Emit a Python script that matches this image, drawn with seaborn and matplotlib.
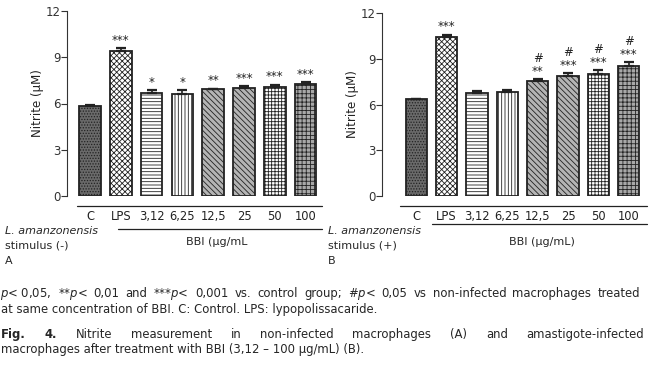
import numpy as np
import pandas as pd
import matplotlib
matplotlib.use("Agg")
import matplotlib.pyplot as plt
import seaborn as sns
from matplotlib.lines import Line2D

# ---------------- data ----------------
groups = ["C", "LPS", "3,12", "6,25", "12,5", "25", "50", "100"]
nitrite_a = [5.86, 9.43, 6.68, 6.64, 6.92, 7.03, 7.07, 7.24]
err_a = [0.06, 0.15, 0.17, 0.22, 0.04, 0.12, 0.15, 0.17]
sig_a = ["", "***", "*", "*", "**", "***", "***", "***"]
nitrite_b = [6.33, 10.41, 6.76, 6.79, 7.55, 7.88, 8.01, 8.53]
err_b = [0.05, 0.17, 0.15, 0.17, 0.11, 0.20, 0.26, 0.26]
sig_b = ["", "***", "", "", "#\n**", "#\n***", "#\n***", "#\n***"]
yticks = [0, 3, 6, 9, 12]

sns.set_theme(style="white")
plt.rcParams["font.family"] = ["DejaVu Sans"]
plt.rcParams["hatch.linewidth"] = 0.6
plt.rcParams["mathtext.fontset"] = "dejavusans"

W, H = 654, 380
fig = plt.figure(figsize=(W / 100, H / 100), dpi=100)
fig.patch.set_facecolor("white")


def fx(px):
    return px / W


def fy(py):
    return 1 - py / H


faces = ["#6a6a6a", "white", "white", "white", "#b4b4b4", "#b4b4b4", "white", "#a8a8a8"]
hatches = ["......", "xxxxxx", "-----", "|||||", "\\\\\\\\\\\\", "\\\\\\\\\\\\", "+++++", "++++"]


def panel(rect, xlim, vals, errs, sigs):
    ax = fig.add_axes(rect)
    df = pd.DataFrame({"group": groups, "nitrite": vals})
    sns.barplot(data=df, x="group", y="nitrite", order=groups, errorbar=None,
                width=0.7, ax=ax, linewidth=1.3, edgecolor="#222222")
    for p, fc, h in zip(ax.patches, faces, hatches):
        p.set_facecolor(fc)
        p.set_hatch(h)
        p.set_edgecolor("#222222")
    xs = np.arange(len(groups))
    ax.errorbar(xs, vals, yerr=[np.zeros(len(vals)), errs], fmt="none",
                ecolor="#222222", elinewidth=1.2, capsize=3.5, capthick=1.6)
    for x, v, e, s in zip(xs, vals, errs, sigs):
        if s:
            ax.text(x, v + e + 0.08, s, ha="center", va="bottom", fontsize=8.5,
                    linespacing=0.95, color="#222222")
    ax.set_xlim(*xlim)
    ax.set_ylim(0, 12)
    ax.set_yticks(yticks)
    ax.set_yticklabels([str(t) for t in yticks], fontsize=8.5, color="#333333")
    ax.set_xticks(xs)
    ax.set_xticklabels(groups, fontsize=8.3, color="#222222")
    ax.tick_params(axis="x", length=0, pad=10)
    ax.tick_params(axis="y", left=True, length=4, width=0.8, color="#333333", pad=0.5)
    ax.set_xlabel("")
    ax.set_ylabel("Nitrite (\u00b5M)", fontsize=8.5, color="#222222", labelpad=1)
    for s in ["top", "right", "bottom"]:
        ax.spines[s].set_visible(False)
    ax.spines["left"].set_color("#333333")
    ax.spines["left"].set_linewidth(0.8)
    ax.set_facecolor("none")
    return ax


axA = panel([fx(67), fy(196), fx(321) - fx(67), fy(11) - fy(196)], (-0.75, 7.5),
            nitrite_a, err_a, sig_a)
axB = panel([fx(382), fy(196), fx(644) - fx(382), fy(13) - fy(196)], (-1.13, 7.5),
            nitrite_b, err_b, sig_b)


def hline(x0, x1, y):
    fig.add_artist(Line2D([fx(x0), fx(x1)], [fy(y), fy(y)], color="#222222", lw=0.9))


hline(77, 322, 206)
hline(118, 322, 229)
hline(400, 647, 206)
hline(432, 647, 224)

fs = 8.0
fig.text(fx(217), fy(242), "BBI (\u00b5g/mL", ha="center", va="center", fontsize=fs)
fig.text(fx(542), fy(242), "BBI (\u00b5g/mL)", ha="center", va="center", fontsize=fs)
for x0, sign, lab in [(5, "-", "A"), (328, "+", "B")]:
    fig.text(fx(x0), fy(231), "L. amanzonensis", style="italic", ha="left", va="center", fontsize=fs)
    fig.text(fx(x0), fy(245), "stimulus (" + sign + ")", ha="left", va="center", fontsize=fs)
    fig.text(fx(x0), fy(261), lab, ha="left", va="center", fontsize=fs)

fig.canvas.draw()
r = fig.canvas.get_renderer()
cfs = 8.4


def justified(words, y, left, right, bold_n=0):
    texts = []
    for i, w in enumerate(words):
        texts.append(fig.text(0, fy(y), w, ha="left", va="baseline", fontsize=cfs,
                              fontweight="bold" if i < bold_n else "normal"))
    widths = [t.get_window_extent(r).width for t in texts]
    gap = (right - left - sum(widths)) / (len(words) - 1)
    x = left
    for t, wd in zip(texts, widths):
        t.set_x(fx(x))
        x += wd + gap


line1 = [r"$\mathit{p}$< 0,05,", r"**$\mathit{p}$<", "0,01", "and", r"***$\mathit{p}$<", "0,001",
         "vs.", "control", "group;", r"#$\mathit{p}$<", "0,05", "vs", "non-infected",
         "macrophages", "treated"]
justified(line1, 297, 0, 640)
fig.text(fx(1), fy(313), "at same concentration of BBI. C: Control. LPS: lypopolissacaride.",
         ha="left", va="baseline", fontsize=cfs)

line3 = ["Fig.", "4.", "Nitrite", "measurement", "in", "non-infected", "macrophages",
         "(A)", "and", "amastigote-infected"]
justified(line3, 338, 1, 644, bold_n=2)
fig.text(fx(1), fy(353), "macrophages after treatment with BBI (3,12 \u2013 100 \u00b5g/mL) (B).",
         ha="left", va="baseline", fontsize=cfs)

fig.savefig("out.png", dpi=100, facecolor="white")
